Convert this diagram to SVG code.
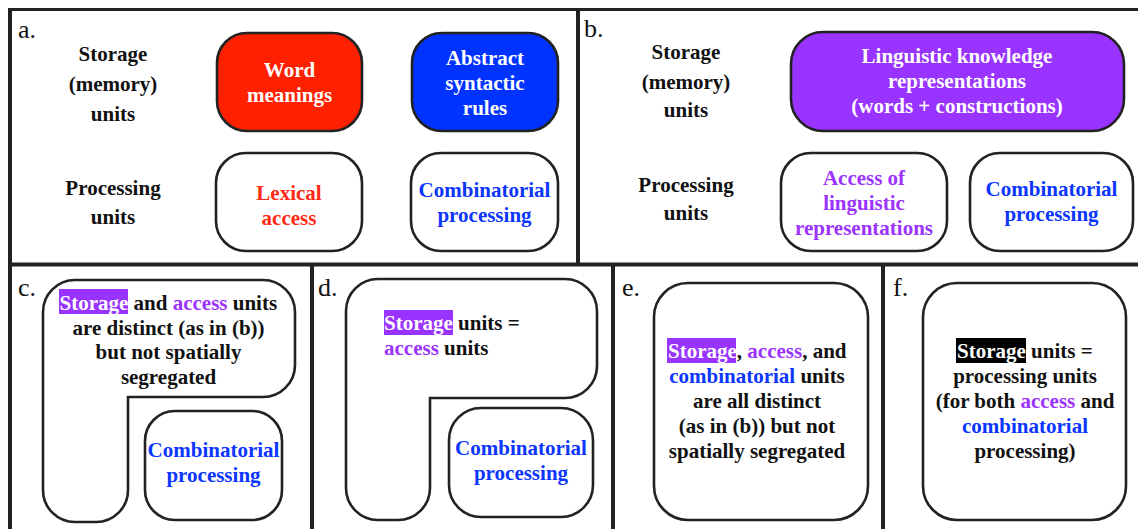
<svg xmlns="http://www.w3.org/2000/svg" width="1138" height="529" viewBox="0 0 1138 529" font-family="Liberation Serif, serif">
<style>
text{font-size:21px;font-weight:bold;fill:#111;text-anchor:middle}
.lbl{font-weight:normal;font-size:26px;text-anchor:start}
.st{text-anchor:start}
.box{stroke:#222;stroke-width:2.6;fill:#fff}
.frame{stroke:#222;fill:none}
.w{fill:#fff}
.red{fill:#ff2a14}
.blu{fill:#0a36ff}
.pur{fill:#9c33ff}
</style>
<rect width="1138" height="529" fill="#fff"/>
<g id="frames">
<line class="frame" x1="8" y1="9.5" x2="1138" y2="9.5" stroke-width="3"/>
<line class="frame" x1="10" y1="8" x2="10" y2="529" stroke-width="4"/>
<line class="frame" x1="578" y1="9" x2="578" y2="264" stroke-width="4"/>
<line class="frame" x1="8" y1="264.5" x2="1138" y2="264.5" stroke-width="4"/>
<line class="frame" x1="312" y1="264" x2="312" y2="529" stroke-width="4"/>
<line class="frame" x1="613" y1="264" x2="613" y2="529" stroke-width="4"/>
<line class="frame" x1="883" y1="264" x2="883" y2="529" stroke-width="4"/>
</g>
<g id="connectors"></g>
<g id="panel-a">
<text class="lbl" x="18" y="38">a.</text>
<g id="a-storage-label"><text x="113" y="61">Storage</text><text x="113" y="91">(memory)</text><text x="113" y="121">units</text></g>
<g id="a-processing-label"><text x="113" y="195">Processing</text><text x="113" y="224">units</text></g>
<g id="a-word-meanings"><rect x="217" y="33" width="145" height="98" rx="30" class="box" style="fill:#ff2000"/>
<text class="w" x="289.5" y="77">Word</text><text class="w" x="289.5" y="102">meanings</text></g>
<g id="a-abstract-rules"><rect x="412" y="33" width="146" height="98" rx="30" class="box" style="fill:#0033ff"/>
<text class="w" x="485" y="65">Abstract</text><text class="w" x="485" y="90">syntactic</text><text class="w" x="485" y="115">rules</text></g>
<g id="a-lexical-access"><rect x="216" y="153" width="146" height="98" rx="30" class="box"/>
<text class="red" x="289" y="200">Lexical</text><text class="red" x="289" y="225">access</text></g>
<g id="a-combinatorial"><rect x="411" y="153" width="147" height="98" rx="30" class="box"/>
<text class="blu" x="484.5" y="197">Combinatorial</text><text class="blu" x="484.5" y="222">processing</text></g>
</g>
<g id="panel-b">
<text class="lbl" x="584" y="37">b.</text>
<g id="b-storage-label"><text x="686" y="59">Storage</text><text x="686" y="89">(memory)</text><text x="686" y="117">units</text></g>
<g id="b-processing-label"><text x="686" y="192">Processing</text><text x="686" y="220">units</text></g>
<g id="b-knowledge"><rect x="791" y="32" width="333" height="99" rx="32" class="box" style="fill:#9933ff"/>
<text class="w" x="957" y="63">Linguistic knowledge</text><text class="w" x="957" y="88">representations</text><text class="w" x="957" y="113">(words + constructions)</text></g>
<g id="b-access"><rect x="781" y="153" width="166" height="98" rx="30" class="box"/>
<text class="pur" x="864" y="185">Access of</text><text class="pur" x="864" y="210">linguistic</text><text class="pur" x="864" y="235">representations</text></g>
<g id="b-combinatorial"><rect x="970" y="153" width="163" height="98" rx="30" class="box"/>
<text class="blu" x="1051.5" y="196">Combinatorial</text><text class="blu" x="1051.5" y="221">processing</text></g>
</g>
<g id="panel-c">
<text class="lbl" x="18" y="296">c.</text>
<g id="c-storage-access"><path class="box" d="M75,280 H263 A32,32 0 0 1 295,312 V365 A32,32 0 0 1 263,397 H128 V490 A32,32 0 0 1 96,522 H75 A32,32 0 0 1 43,490 V312 A32,32 0 0 1 75,280 Z"/>
<rect x="59" y="289" width="69" height="25" fill="#9933ff"/>
<text class="st" x="59.5" y="310"><tspan class="w">Storage</tspan> and <tspan class="pur">access</tspan> units</text>
<text x="168.5" y="334.5">are distinct (as in (b))</text><text x="168.5" y="359">but not spatially</text><text x="168.5" y="383.5">segregated</text></g>
<g id="c-combinatorial"><rect x="145" y="411" width="137" height="109" rx="30" class="box"/>
<text class="blu" x="213.5" y="457">Combinatorial</text><text class="blu" x="213.5" y="482">processing</text></g>
</g>
<g id="panel-d">
<text class="lbl" x="318" y="296">d.</text>
<g id="d-storage-access"><path class="box" d="M378,279 H565 A32,32 0 0 1 597,311 V366 A32,32 0 0 1 565,398 H430 V488 A32,32 0 0 1 398,520 H378 A32,32 0 0 1 346,488 V311 A32,32 0 0 1 378,279 Z"/>
<rect x="384" y="310" width="69" height="25" fill="#9933ff"/>
<text class="st" x="384" y="330"><tspan class="w">Storage</tspan> units =</text>
<text class="st" x="384" y="355"><tspan class="pur">access</tspan> units</text></g>
<g id="d-combinatorial"><rect x="449" y="408" width="144" height="109" rx="32" class="box"/>
<text class="blu" x="521" y="455">Combinatorial</text><text class="blu" x="521" y="480">processing</text></g>
</g>
<g id="panel-e">
<text class="lbl" x="622" y="296">e.</text>
<g id="e-all-units"><rect x="654" y="283" width="214" height="237" rx="34" class="box"/>
<rect x="667" y="338" width="69" height="25" fill="#9933ff"/>
<text class="st" x="668" y="358"><tspan class="w">Storage</tspan>, <tspan class="pur">access</tspan>, and</text>
<text x="757" y="383"><tspan class="blu">combinatorial</tspan> units</text>
<text x="757" y="408">are all distinct</text><text x="757" y="433">(as in (b)) but not</text><text x="757" y="458">spatially segregated</text></g>
</g>
<g id="panel-f">
<text class="lbl" x="893" y="296">f.</text>
<g id="f-storage-processing"><rect x="923" y="283" width="203" height="237" rx="34" class="box"/>
<rect x="956" y="338" width="70" height="25" fill="#000"/>
<text class="st" x="957" y="358"><tspan class="w">Storage</tspan> units =</text>
<text x="1025" y="383">processing units</text>
<text x="1025" y="408">(for both <tspan class="pur">access</tspan> and</text>
<text class="blu" x="1025" y="433">combinatorial</text>
<text x="1025" y="458">processing)</text></g>
</g>
</svg>
